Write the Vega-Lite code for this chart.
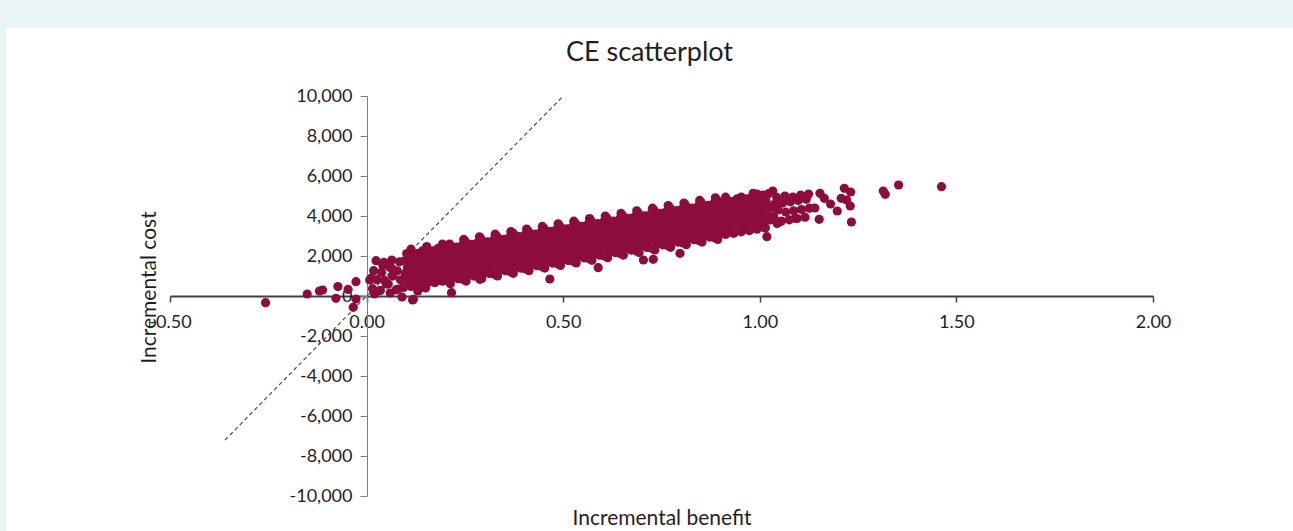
{
"$schema": "https://vega.github.io/schema/vega-lite/v6.json",
"width": 1287, "height": 503,
"autosize": {"type": "none"},
"padding": {"left": 6, "top": 28, "right": 0, "bottom": 0},
"background": "#eaf5f7",
"view": {"fill": "white", "stroke": null},
"title": {"text": "CE scatterplot", "font": "Lato", "fontSize": 27, "fontWeight": "normal", "color": "#1f1f1f", "anchor": "middle", "baseline": "alphabetic", "offset": -60},
"datasets": {
"wtp": [{"b": -0.36, "c": -7200}, {"b": 0.5, "c": 10000}],
"points": [
{"b":-0.257,"c":-335},{"b":-0.151,"c":100},{"b":-0.12,"c":250},{"b":-0.112,"c":300},{"b":-0.073,"c":470},{"b":-0.078,"c":-117},{"b":-0.047,"c":330},{"b":-0.027,"c":717},{"b":-0.027,"c":-150},{"b":-0.034,"c":-567},{"b":0.011,"c":883},{"b":0.02,"c":100},{"b":0.041,"c":1550},{"b":0.064,"c":1383},{"b":0.11,"c":2083},{"b":0.117,"c":-200},{"b":0.008,"c":800},
{"b":0.06,"c":150},{"b":0.09,"c":-50},{"b":0.13,"c":250},{"b":0.15,"c":400},{"b":0.08,"c":350},{"b":0.05,"c":600},{"b":0.03,"c":250},
{"b":0.015,"c":365},{"b":0.026,"c":815},{"b":0.018,"c":1265},{"b":0.024,"c":1765},
{"b":0.035,"c":280},{"b":0.046,"c":780},{"b":0.038,"c":1180},{"b":0.044,"c":1680},
{"b":0.055,"c":595},{"b":0.066,"c":995},{"b":0.058,"c":1445},{"b":0.064,"c":1795},
{"b":0.075,"c":310},{"b":0.086,"c":810},{"b":0.078,"c":1260},{"b":0.084,"c":1710},
{"b":0.094,"c":425},{"b":0.105,"c":805},{"b":0.098,"c":1125},{"b":0.107,"c":1425},{"b":0.096,"c":1745},{"b":0.102,"c":2125},
{"b":0.124,"c":640},{"b":0.115,"c":990},{"b":0.126,"c":1310},{"b":0.118,"c":1610},{"b":0.123,"c":1940},{"b":0.113,"c":2340},
{"b":0.134,"c":555},{"b":0.145,"c":935},{"b":0.138,"c":1255},{"b":0.147,"c":1555},{"b":0.136,"c":1875},{"b":0.142,"c":2255},
{"b":0.164,"c":770},{"b":0.155,"c":1120},{"b":0.166,"c":1440},{"b":0.158,"c":1740},{"b":0.163,"c":2070},{"b":0.153,"c":2470},
{"b":0.174,"c":685},{"b":0.185,"c":1065},{"b":0.178,"c":1385},{"b":0.187,"c":1685},{"b":0.176,"c":2005},{"b":0.182,"c":2385},
{"b":0.204,"c":900},{"b":0.195,"c":1250},{"b":0.206,"c":1570},{"b":0.198,"c":1870},{"b":0.203,"c":2200},{"b":0.193,"c":2600},
{"b":0.213,"c":615},{"b":0.224,"c":995},{"b":0.218,"c":1315},{"b":0.228,"c":1555},{"b":0.215,"c":1795},{"b":0.221,"c":2035},{"b":0.226,"c":2295},{"b":0.211,"c":2595},
{"b":0.245,"c":830},{"b":0.234,"c":1200},{"b":0.249,"c":1500},{"b":0.237,"c":1740},{"b":0.242,"c":1980},{"b":0.232,"c":2240},{"b":0.243,"c":2540},{"b":0.247,"c":2830},
{"b":0.253,"c":745},{"b":0.264,"c":1125},{"b":0.258,"c":1445},{"b":0.268,"c":1685},{"b":0.255,"c":1925},{"b":0.261,"c":2165},{"b":0.266,"c":2425},{"b":0.251,"c":2725},
{"b":0.285,"c":960},{"b":0.274,"c":1330},{"b":0.289,"c":1630},{"b":0.277,"c":1870},{"b":0.282,"c":2110},{"b":0.272,"c":2370},{"b":0.283,"c":2670},{"b":0.287,"c":2960},
{"b":0.293,"c":875},{"b":0.304,"c":1255},{"b":0.298,"c":1575},{"b":0.308,"c":1815},{"b":0.295,"c":2055},{"b":0.301,"c":2295},{"b":0.306,"c":2555},{"b":0.291,"c":2855},
{"b":0.325,"c":1090},{"b":0.314,"c":1460},{"b":0.329,"c":1760},{"b":0.317,"c":2000},{"b":0.322,"c":2240},{"b":0.312,"c":2500},{"b":0.323,"c":2800},{"b":0.327,"c":3090},
{"b":0.333,"c":1005},{"b":0.344,"c":1385},{"b":0.338,"c":1705},{"b":0.348,"c":1945},{"b":0.335,"c":2185},{"b":0.341,"c":2425},{"b":0.346,"c":2685},{"b":0.331,"c":2985},
{"b":0.365,"c":1220},{"b":0.354,"c":1590},{"b":0.369,"c":1890},{"b":0.357,"c":2130},{"b":0.362,"c":2370},{"b":0.352,"c":2630},{"b":0.363,"c":2930},{"b":0.367,"c":3220},
{"b":0.373,"c":1135},{"b":0.384,"c":1515},{"b":0.378,"c":1835},{"b":0.388,"c":2075},{"b":0.375,"c":2315},{"b":0.381,"c":2555},{"b":0.386,"c":2815},{"b":0.371,"c":3115},
{"b":0.405,"c":1350},{"b":0.394,"c":1720},{"b":0.409,"c":2020},{"b":0.397,"c":2260},{"b":0.402,"c":2500},{"b":0.392,"c":2760},{"b":0.403,"c":3060},{"b":0.407,"c":3350},
{"b":0.413,"c":1265},{"b":0.424,"c":1645},{"b":0.418,"c":1965},{"b":0.428,"c":2205},{"b":0.415,"c":2445},{"b":0.421,"c":2685},{"b":0.426,"c":2945},{"b":0.411,"c":3245},
{"b":0.445,"c":1480},{"b":0.434,"c":1850},{"b":0.449,"c":2150},{"b":0.437,"c":2390},{"b":0.442,"c":2630},{"b":0.432,"c":2890},{"b":0.443,"c":3190},{"b":0.447,"c":3480},
{"b":0.453,"c":1395},{"b":0.464,"c":1775},{"b":0.458,"c":2095},{"b":0.468,"c":2335},{"b":0.455,"c":2575},{"b":0.461,"c":2815},{"b":0.466,"c":3075},{"b":0.451,"c":3375},
{"b":0.485,"c":1610},{"b":0.474,"c":1980},{"b":0.489,"c":2280},{"b":0.477,"c":2520},{"b":0.482,"c":2760},{"b":0.472,"c":3020},{"b":0.483,"c":3320},{"b":0.487,"c":3610},
{"b":0.493,"c":1525},{"b":0.504,"c":1905},{"b":0.498,"c":2225},{"b":0.508,"c":2465},{"b":0.495,"c":2705},{"b":0.501,"c":2945},{"b":0.506,"c":3205},{"b":0.491,"c":3505},
{"b":0.525,"c":1740},{"b":0.514,"c":2110},{"b":0.529,"c":2410},{"b":0.517,"c":2650},{"b":0.522,"c":2890},{"b":0.512,"c":3150},{"b":0.523,"c":3450},{"b":0.527,"c":3740},
{"b":0.533,"c":1655},{"b":0.544,"c":2035},{"b":0.538,"c":2355},{"b":0.548,"c":2595},{"b":0.535,"c":2835},{"b":0.541,"c":3075},{"b":0.546,"c":3335},{"b":0.531,"c":3635},
{"b":0.565,"c":1870},{"b":0.554,"c":2240},{"b":0.569,"c":2540},{"b":0.557,"c":2780},{"b":0.562,"c":3020},{"b":0.552,"c":3280},{"b":0.563,"c":3580},{"b":0.567,"c":3870},
{"b":0.573,"c":1785},{"b":0.584,"c":2165},{"b":0.578,"c":2485},{"b":0.588,"c":2725},{"b":0.575,"c":2965},{"b":0.581,"c":3205},{"b":0.586,"c":3465},{"b":0.571,"c":3765},
{"b":0.605,"c":2000},{"b":0.594,"c":2370},{"b":0.609,"c":2670},{"b":0.597,"c":2910},{"b":0.602,"c":3150},{"b":0.592,"c":3410},{"b":0.603,"c":3710},{"b":0.607,"c":4000},
{"b":0.613,"c":1915},{"b":0.624,"c":2295},{"b":0.618,"c":2615},{"b":0.628,"c":2855},{"b":0.615,"c":3095},{"b":0.621,"c":3335},{"b":0.626,"c":3595},{"b":0.611,"c":3895},
{"b":0.645,"c":2130},{"b":0.634,"c":2500},{"b":0.649,"c":2800},{"b":0.637,"c":3040},{"b":0.642,"c":3280},{"b":0.632,"c":3540},{"b":0.643,"c":3840},{"b":0.647,"c":4130},
{"b":0.653,"c":2045},{"b":0.664,"c":2425},{"b":0.658,"c":2745},{"b":0.668,"c":2985},{"b":0.655,"c":3225},{"b":0.661,"c":3465},{"b":0.666,"c":3725},{"b":0.651,"c":4025},
{"b":0.685,"c":2260},{"b":0.674,"c":2630},{"b":0.689,"c":2930},{"b":0.677,"c":3170},{"b":0.682,"c":3410},{"b":0.672,"c":3670},{"b":0.683,"c":3970},{"b":0.687,"c":4260},
{"b":0.693,"c":2175},{"b":0.704,"c":2555},{"b":0.698,"c":2875},{"b":0.708,"c":3115},{"b":0.695,"c":3355},{"b":0.701,"c":3595},{"b":0.706,"c":3855},{"b":0.691,"c":4155},
{"b":0.725,"c":2390},{"b":0.714,"c":2760},{"b":0.729,"c":3060},{"b":0.717,"c":3300},{"b":0.722,"c":3540},{"b":0.712,"c":3800},{"b":0.723,"c":4100},{"b":0.727,"c":4390},
{"b":0.733,"c":2305},{"b":0.744,"c":2685},{"b":0.738,"c":3005},{"b":0.748,"c":3245},{"b":0.735,"c":3485},{"b":0.741,"c":3725},{"b":0.746,"c":3985},{"b":0.731,"c":4285},
{"b":0.765,"c":2520},{"b":0.754,"c":2890},{"b":0.769,"c":3190},{"b":0.757,"c":3430},{"b":0.762,"c":3670},{"b":0.752,"c":3930},{"b":0.763,"c":4230},{"b":0.767,"c":4520},
{"b":0.773,"c":2435},{"b":0.784,"c":2815},{"b":0.778,"c":3135},{"b":0.788,"c":3375},{"b":0.775,"c":3615},{"b":0.781,"c":3855},{"b":0.786,"c":4115},{"b":0.771,"c":4415},
{"b":0.805,"c":2650},{"b":0.794,"c":3020},{"b":0.809,"c":3320},{"b":0.797,"c":3560},{"b":0.802,"c":3800},{"b":0.792,"c":4060},{"b":0.803,"c":4360},{"b":0.807,"c":4650},
{"b":0.813,"c":2565},{"b":0.824,"c":2945},{"b":0.818,"c":3265},{"b":0.828,"c":3505},{"b":0.815,"c":3745},{"b":0.821,"c":3985},{"b":0.826,"c":4245},{"b":0.811,"c":4545},
{"b":0.845,"c":2780},{"b":0.834,"c":3150},{"b":0.849,"c":3450},{"b":0.837,"c":3690},{"b":0.842,"c":3930},{"b":0.832,"c":4190},{"b":0.843,"c":4490},{"b":0.847,"c":4780},
{"b":0.853,"c":2695},{"b":0.864,"c":3075},{"b":0.858,"c":3395},{"b":0.868,"c":3635},{"b":0.855,"c":3875},{"b":0.861,"c":4115},{"b":0.866,"c":4375},{"b":0.851,"c":4675},
{"b":0.885,"c":2910},{"b":0.874,"c":3280},{"b":0.889,"c":3580},{"b":0.877,"c":3820},{"b":0.882,"c":4060},{"b":0.872,"c":4320},{"b":0.883,"c":4620},{"b":0.887,"c":4910},
{"b":0.893,"c":2825},{"b":0.904,"c":3205},{"b":0.898,"c":3525},{"b":0.908,"c":3765},{"b":0.895,"c":4005},{"b":0.901,"c":4245},{"b":0.906,"c":4505},{"b":0.891,"c":4805},
{"b":0.924,"c":3240},{"b":0.915,"c":3590},{"b":0.926,"c":3910},{"b":0.918,"c":4210},{"b":0.923,"c":4540},{"b":0.913,"c":4940},
{"b":0.934,"c":3155},{"b":0.945,"c":3535},{"b":0.938,"c":3855},{"b":0.947,"c":4155},{"b":0.936,"c":4475},{"b":0.942,"c":4855},
{"b":0.964,"c":3370},{"b":0.955,"c":3720},{"b":0.966,"c":4040},{"b":0.958,"c":4340},{"b":0.963,"c":4670},{"b":0.953,"c":4950},
{"b":0.974,"c":3285},{"b":0.985,"c":3665},{"b":0.978,"c":3985},{"b":0.987,"c":4285},{"b":0.976,"c":4605},{"b":0.982,"c":4985},
{"b":1.004,"c":3500},{"b":0.995,"c":3850},{"b":1.006,"c":4170},{"b":0.998,"c":4470},{"b":1.003,"c":4800},{"b":0.993,"c":5100},
{"b":1.014,"c":3415},{"b":1.025,"c":3795},{"b":1.018,"c":4115},{"b":1.027,"c":4415},{"b":1.016,"c":4735},{"b":1.022,"c":5115},
{"b":1.044,"c":3630},{"b":1.035,"c":3980},{"b":1.046,"c":4300},{"b":1.038,"c":4600},{"b":1.043,"c":4930},{"b":1.033,"c":5250},
{"b":1.055,"c":3745},{"b":1.066,"c":4195},{"b":1.058,"c":4645},{"b":1.064,"c":5000},
{"b":1.075,"c":3810},{"b":1.086,"c":4260},{"b":1.078,"c":4710},{"b":1.084,"c":4950},
{"b":1.095,"c":3875},{"b":1.106,"c":4325},{"b":1.098,"c":4775},{"b":1.104,"c":5050},
{"b":1.115,"c":3940},{"b":1.126,"c":4390},{"b":1.118,"c":4840},{"b":1.124,"c":5100},
{"b":0.113,"c":478},{"b":0.106,"c":838},{"b":0.116,"c":1138},{"b":0.104,"c":1418},{"b":0.111,"c":1718},{"b":0.108,"c":2058},
{"b":0.133,"c":543},{"b":0.126,"c":903},{"b":0.136,"c":1203},{"b":0.124,"c":1483},{"b":0.131,"c":1783},{"b":0.128,"c":2123},
{"b":0.153,"c":608},{"b":0.146,"c":968},{"b":0.156,"c":1268},{"b":0.144,"c":1548},{"b":0.151,"c":1848},{"b":0.148,"c":2188},
{"b":0.173,"c":673},{"b":0.166,"c":1033},{"b":0.176,"c":1333},{"b":0.164,"c":1613},{"b":0.171,"c":1913},{"b":0.168,"c":2253},
{"b":0.193,"c":738},{"b":0.186,"c":1098},{"b":0.196,"c":1398},{"b":0.184,"c":1678},{"b":0.191,"c":1978},{"b":0.188,"c":2318},
{"b":0.213,"c":803},{"b":0.206,"c":1163},{"b":0.216,"c":1463},{"b":0.204,"c":1743},{"b":0.211,"c":2043},{"b":0.208,"c":2383},
{"b":0.233,"c":868},{"b":0.226,"c":1228},{"b":0.236,"c":1528},{"b":0.224,"c":1808},{"b":0.231,"c":2108},{"b":0.228,"c":2448},
{"b":0.253,"c":933},{"b":0.246,"c":1293},{"b":0.256,"c":1593},{"b":0.244,"c":1873},{"b":0.251,"c":2173},{"b":0.248,"c":2513},
{"b":0.273,"c":998},{"b":0.266,"c":1358},{"b":0.276,"c":1658},{"b":0.264,"c":1938},{"b":0.271,"c":2238},{"b":0.268,"c":2578},
{"b":0.293,"c":1063},{"b":0.286,"c":1423},{"b":0.296,"c":1723},{"b":0.284,"c":2003},{"b":0.291,"c":2303},{"b":0.288,"c":2643},
{"b":0.313,"c":1128},{"b":0.306,"c":1488},{"b":0.316,"c":1788},{"b":0.304,"c":2068},{"b":0.311,"c":2368},{"b":0.308,"c":2708},
{"b":0.333,"c":1193},{"b":0.326,"c":1553},{"b":0.336,"c":1853},{"b":0.324,"c":2133},{"b":0.331,"c":2433},{"b":0.328,"c":2773},
{"b":0.353,"c":1258},{"b":0.346,"c":1618},{"b":0.356,"c":1918},{"b":0.344,"c":2198},{"b":0.351,"c":2498},{"b":0.348,"c":2838},
{"b":0.373,"c":1323},{"b":0.366,"c":1683},{"b":0.376,"c":1983},{"b":0.364,"c":2263},{"b":0.371,"c":2563},{"b":0.368,"c":2903},
{"b":0.393,"c":1388},{"b":0.386,"c":1748},{"b":0.396,"c":2048},{"b":0.384,"c":2328},{"b":0.391,"c":2628},{"b":0.388,"c":2968},
{"b":0.413,"c":1453},{"b":0.406,"c":1813},{"b":0.416,"c":2113},{"b":0.404,"c":2393},{"b":0.411,"c":2693},{"b":0.408,"c":3033},
{"b":0.433,"c":1518},{"b":0.426,"c":1878},{"b":0.436,"c":2178},{"b":0.424,"c":2458},{"b":0.431,"c":2758},{"b":0.428,"c":3098},
{"b":0.453,"c":1583},{"b":0.446,"c":1943},{"b":0.456,"c":2243},{"b":0.444,"c":2523},{"b":0.451,"c":2823},{"b":0.448,"c":3163},
{"b":0.473,"c":1648},{"b":0.466,"c":2008},{"b":0.476,"c":2308},{"b":0.464,"c":2588},{"b":0.471,"c":2888},{"b":0.468,"c":3228},
{"b":0.493,"c":1713},{"b":0.486,"c":2073},{"b":0.496,"c":2373},{"b":0.484,"c":2653},{"b":0.491,"c":2953},{"b":0.488,"c":3293},
{"b":0.513,"c":1778},{"b":0.506,"c":2138},{"b":0.516,"c":2438},{"b":0.504,"c":2718},{"b":0.511,"c":3018},{"b":0.508,"c":3358},
{"b":0.533,"c":1843},{"b":0.526,"c":2203},{"b":0.536,"c":2503},{"b":0.524,"c":2783},{"b":0.531,"c":3083},{"b":0.528,"c":3423},
{"b":0.553,"c":1908},{"b":0.546,"c":2268},{"b":0.556,"c":2568},{"b":0.544,"c":2848},{"b":0.551,"c":3148},{"b":0.548,"c":3488},
{"b":0.573,"c":1973},{"b":0.566,"c":2333},{"b":0.576,"c":2633},{"b":0.564,"c":2913},{"b":0.571,"c":3213},{"b":0.568,"c":3553},
{"b":0.593,"c":2038},{"b":0.586,"c":2398},{"b":0.596,"c":2698},{"b":0.584,"c":2978},{"b":0.591,"c":3278},{"b":0.588,"c":3618},
{"b":0.613,"c":2103},{"b":0.606,"c":2463},{"b":0.616,"c":2763},{"b":0.604,"c":3043},{"b":0.611,"c":3343},{"b":0.608,"c":3683},
{"b":0.633,"c":2168},{"b":0.626,"c":2528},{"b":0.636,"c":2828},{"b":0.624,"c":3108},{"b":0.631,"c":3408},{"b":0.628,"c":3748},
{"b":0.653,"c":2233},{"b":0.646,"c":2593},{"b":0.656,"c":2893},{"b":0.644,"c":3173},{"b":0.651,"c":3473},{"b":0.648,"c":3813},
{"b":0.673,"c":2298},{"b":0.666,"c":2658},{"b":0.676,"c":2958},{"b":0.664,"c":3238},{"b":0.671,"c":3538},{"b":0.668,"c":3878},
{"b":0.693,"c":2363},{"b":0.686,"c":2723},{"b":0.696,"c":3023},{"b":0.684,"c":3303},{"b":0.691,"c":3603},{"b":0.688,"c":3943},
{"b":0.713,"c":2428},{"b":0.706,"c":2788},{"b":0.716,"c":3088},{"b":0.704,"c":3368},{"b":0.711,"c":3668},{"b":0.708,"c":4008},
{"b":0.733,"c":2493},{"b":0.726,"c":2853},{"b":0.736,"c":3153},{"b":0.724,"c":3433},{"b":0.731,"c":3733},{"b":0.728,"c":4073},
{"b":0.753,"c":2558},{"b":0.746,"c":2918},{"b":0.756,"c":3218},{"b":0.744,"c":3498},{"b":0.751,"c":3798},{"b":0.748,"c":4138},
{"b":0.773,"c":2623},{"b":0.766,"c":2983},{"b":0.776,"c":3283},{"b":0.764,"c":3563},{"b":0.771,"c":3863},{"b":0.768,"c":4203},
{"b":0.793,"c":2688},{"b":0.786,"c":3048},{"b":0.796,"c":3348},{"b":0.784,"c":3628},{"b":0.791,"c":3928},{"b":0.788,"c":4268},
{"b":0.813,"c":2753},{"b":0.806,"c":3113},{"b":0.816,"c":3413},{"b":0.804,"c":3693},{"b":0.811,"c":3993},{"b":0.808,"c":4333},
{"b":0.833,"c":2818},{"b":0.826,"c":3178},{"b":0.836,"c":3478},{"b":0.824,"c":3758},{"b":0.831,"c":4058},{"b":0.828,"c":4398},
{"b":0.853,"c":2883},{"b":0.846,"c":3243},{"b":0.856,"c":3543},{"b":0.844,"c":3823},{"b":0.851,"c":4123},{"b":0.848,"c":4463},
{"b":0.873,"c":2948},{"b":0.866,"c":3308},{"b":0.876,"c":3608},{"b":0.864,"c":3888},{"b":0.871,"c":4188},{"b":0.868,"c":4528},
{"b":0.893,"c":3013},{"b":0.886,"c":3373},{"b":0.896,"c":3673},{"b":0.884,"c":3953},{"b":0.891,"c":4253},{"b":0.888,"c":4593},
{"b":0.913,"c":3078},{"b":0.906,"c":3438},{"b":0.916,"c":3738},{"b":0.904,"c":4018},{"b":0.911,"c":4318},{"b":0.908,"c":4658},
{"b":0.933,"c":3143},{"b":0.926,"c":3503},{"b":0.936,"c":3803},{"b":0.924,"c":4083},{"b":0.931,"c":4383},{"b":0.928,"c":4723},
{"b":0.953,"c":3208},{"b":0.946,"c":3568},{"b":0.956,"c":3868},{"b":0.944,"c":4148},{"b":0.951,"c":4448},{"b":0.948,"c":4788},
{"b":0.973,"c":3273},{"b":0.966,"c":3633},{"b":0.976,"c":3933},{"b":0.964,"c":4213},{"b":0.971,"c":4513},{"b":0.968,"c":4853},
{"b":0.993,"c":3338},{"b":0.986,"c":3698},{"b":0.996,"c":3998},{"b":0.984,"c":4278},{"b":0.991,"c":4578},{"b":0.988,"c":4918},
{"b":1.013,"c":3403},{"b":1.006,"c":3763},{"b":1.016,"c":4063},{"b":1.004,"c":4343},{"b":1.011,"c":4643},{"b":1.008,"c":4983},
{"b":0.466,"c":850},{"b":0.704,"c":1800},{"b":0.729,"c":1833},{"b":1.018,"c":2967},{"b":0.373,"c":3133},{"b":0.212,"c":2467},{"b":0.572,"c":3633},{"b":0.589,"c":1417},{"b":0.216,"c":167},{"b":0.288,"c":833},{"b":0.119,"c":-167},{"b":0.983,"c":5133},{"b":1.008,"c":5050},{"b":0.899,"c":4633},{"b":0.797,"c":2133},
{"b":1.153,"c":5133},{"b":1.164,"c":4883},{"b":1.151,"c":3833},{"b":1.197,"c":4250},{"b":1.23,"c":4500},{"b":1.207,"c":4883},{"b":1.221,"c":4800},{"b":1.215,"c":5383},{"b":1.231,"c":5200},{"b":1.233,"c":3700},{"b":1.314,"c":5250},{"b":1.319,"c":5083},{"b":1.353,"c":5550},{"b":1.462,"c":5467},{"b":1.18,"c":4600},{"b":1.14,"c":4400},{"b":1.09,"c":3883},{"b":1.051,"c":3717}
]
},
"encoding": {
"x": {"field": "b", "type": "quantitative",
 "scale": {"domain": [-0.5, 2], "range": [164, 1147], "nice": false, "zero": false},
 "axis": {"orient": "bottom", "offset": -235, "values": [-0.5, 0, 0.5, 1, 1.5, 2], "grid": false,
  "labelExpr": "replace(format(datum.value, '.2f'), '\u2212', '-')",
  "domainColor": "#404040", "domainWidth": 2, "tickColor": "#404040", "tickWidth": 1.5, "tickSize": 6,
  "labelFont": "Lato", "labelFontSize": 18, "labelColor": "#1f1f1f", "labelPadding": 11, "labelFlush": false, "labelOverlap": false,
  "title": "Incremental benefit", "titleFont": "Lato", "titleFontSize": 21, "titleFontWeight": "normal", "titleColor": "#1f1f1f",
  "titleBaseline": "alphabetic", "titleY": 228}},
"y": {"field": "c", "type": "quantitative",
 "scale": {"domain": [-10000, 10000], "range": [468, 68], "nice": false, "zero": false},
 "axis": {"orient": "left", "offset": -361, "values": [-10000, -8000, -6000, -4000, -2000, 0, 2000, 4000, 6000, 8000, 10000], "grid": false,
  "labelExpr": "replace(format(datum.value, ',.0f'), '\u2212', '-')",
  "domainColor": "#7f7f7f", "domainWidth": 1, "tickColor": "#7f7f7f", "tickSize": 7,
  "labelFont": "Lato", "labelFontSize": 18, "labelColor": "#1f1f1f", "labelPadding": 8, "labelFlush": false, "labelOverlap": false,
  "title": "Incremental cost", "titleFont": "Lato", "titleFontSize": 21, "titleFontWeight": "normal", "titleColor": "#1f1f1f",
  "titleAngle": 270, "titleBaseline": "alphabetic", "titleAlign": "center", "titleX": -212, "titleY": 259}}
},
"layer": [
 {"data": {"name": "wtp"}, "mark": {"type": "line", "color": "#404040", "strokeDash": [4, 3], "strokeWidth": 1.1}},
 {"data": {"name": "points"}, "mark": {"type": "circle", "color": "#8c0d3b", "opacity": 1, "size": 85}}
]
}
